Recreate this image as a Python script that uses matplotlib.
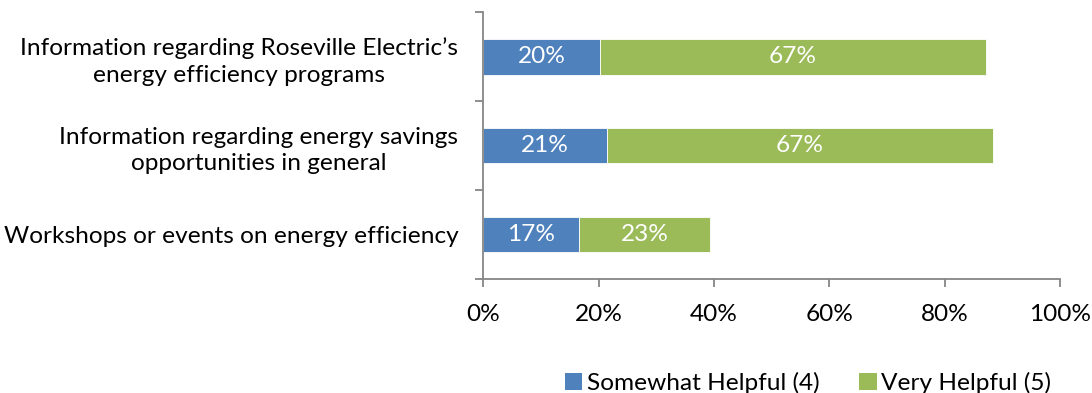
import matplotlib
matplotlib.use("Agg")
import matplotlib.pyplot as plt
from matplotlib.patches import Patch

categories = [
    "Information regarding Roseville Electric\u2019s\nenergy efficiency programs",
    "Information regarding energy savings\nopportunities in general",
    "Workshops or events on energy efficiency",
]
somewhat_helpful = [20.2, 21.4, 16.6]
very_helpful = [66.9, 66.9, 22.7]
series_names = ["Somewhat Helpful (4)", "Very Helpful (5)"]
xtick_values = [0, 20, 40, 60, 80, 100]
xtick_labels = ["0%", "20%", "40%", "60%", "80%", "100%"]

BLUE = "#4F81BD"
GREEN = "#9BBB59"
AXIS = "#868686"
FONT = "Lato"
FS = 17.6

plt.rcParams["font.family"] = [FONT, "DejaVu Sans"]

fig = plt.figure(figsize=(10.92, 3.93), dpi=100)
ax = fig.add_axes([483.3 / 1092, 1 - 279 / 393, (1060 - 483.3) / 1092, (279 - 12.3) / 393])

ypos = list(range(len(categories)))
h = 0.4
b1 = ax.barh(ypos, somewhat_helpful, height=h, color=BLUE, edgecolor="white", linewidth=0.6)
b2 = ax.barh(ypos, very_helpful, left=somewhat_helpful, height=h, color=GREEN,
             edgecolor="white", linewidth=0.6)

for vals, lefts in ((somewhat_helpful, [0] * 3), (very_helpful, somewhat_helpful)):
    for y, v, l in zip(ypos, vals, lefts):
        ax.text(l + v / 2, y, f"{round(v):.0f}%", ha="center", va="center",
                color="white", fontsize=FS)

ax.set_xlim(0, 100)
ax.set_ylim(len(categories) - 0.5, -0.5)
ax.set_xticks(xtick_values)
ax.set_xticklabels(xtick_labels, fontsize=FS)
ax.set_yticks([y + 0.5 for y in ypos] + [-0.5])
ax.set_yticklabels([])
ax.set_yticks(ypos, minor=True)
ax.set_yticklabels(categories, minor=True, fontsize=FS, multialignment="center",
                   linespacing=1.32)
ax.tick_params(axis="y", which="minor", length=0, pad=18)
ax.tick_params(axis="y", which="major", length=6, color=AXIS, width=1.3)
ax.tick_params(axis="x", length=6, color=AXIS, width=1.3, pad=12)

for side in ("top", "right"):
    ax.spines[side].set_visible(False)
for side in ("left", "bottom"):
    ax.spines[side].set_color(AXIS)
    ax.spines[side].set_linewidth(1.3)

handles = [Patch(facecolor=BLUE), Patch(facecolor=GREEN)]
fig.legend(handles, series_names, loc="center", bbox_to_anchor=(0.740, 0.026), ncol=2,
           frameon=False, fontsize=FS, handlelength=0.7, handleheight=0.7,
           handletextpad=0.2, columnspacing=1.64, borderpad=0)

fig.savefig("out.png", dpi=100)
